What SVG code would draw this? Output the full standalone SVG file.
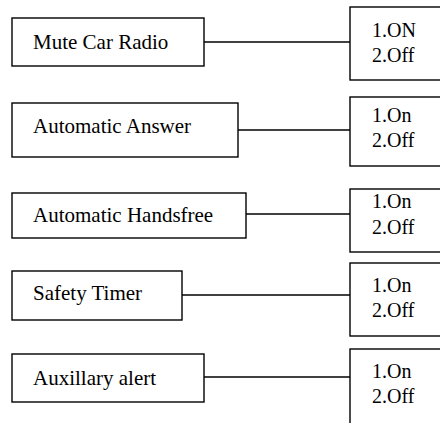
<svg xmlns="http://www.w3.org/2000/svg" width="440" height="423" viewBox="0 0 440 423">
<style>
.box{fill:#fff;stroke:#000;stroke-width:1.4}
.lbl{font-size:21px;fill:#000}
.opt{font-size:20px;fill:#000}
.conn{stroke:#000;stroke-width:1.4;fill:none}
</style>
<rect width="440" height="423" fill="#fff"/>
<g id="connectors">
<line class="conn" x1="204" y1="42" x2="350" y2="42"/>
<line class="conn" x1="238" y1="130" x2="350" y2="130"/>
<line class="conn" x1="246" y1="214" x2="350" y2="214"/>
<line class="conn" x1="182" y1="295" x2="350" y2="295"/>
<line class="conn" x1="204" y1="377" x2="350" y2="377"/>
</g>
<g font-family="Liberation Serif">
<g id="mute-car-radio"><rect class="box" x="12" y="18" width="192" height="48"/><text class="lbl" x="33" y="49">Mute Car Radio</text></g>
<g id="mute-options"><rect class="box" x="350" y="7" width="100" height="73"/><text class="opt" x="372" y="37">1.ON</text><text class="opt" x="372" y="62">2.Off</text></g>
<g id="automatic-answer"><rect class="box" x="12" y="103" width="226" height="54"/><text class="lbl" x="33" y="133">Automatic Answer</text></g>
<g id="answer-options"><rect class="box" x="350" y="97" width="100" height="69"/><text class="opt" x="372" y="122">1.On</text><text class="opt" x="372" y="147">2.Off</text></g>
<g id="automatic-handsfree"><rect class="box" x="12" y="193" width="234" height="45"/><text class="lbl" x="33" y="222">Automatic Handsfree</text></g>
<g id="handsfree-options"><rect class="box" x="350" y="189" width="100" height="63"/><text class="opt" x="372" y="208">1.On</text><text class="opt" x="372" y="234">2.Off</text></g>
<g id="safety-timer"><rect class="box" x="12" y="271" width="170" height="49"/><text class="lbl" x="33" y="300">Safety Timer</text></g>
<g id="timer-options"><rect class="box" x="350" y="263" width="100" height="73"/><text class="opt" x="372" y="292">1.On</text><text class="opt" x="372" y="317">2.Off</text></g>
<g id="auxillary-alert"><rect class="box" x="12" y="354" width="192" height="48"/><text class="lbl" x="33" y="385">Auxillary alert</text></g>
<g id="alert-options"><rect class="box" x="350" y="349" width="100" height="90"/><text class="opt" x="372" y="378">1.On</text><text class="opt" x="372" y="403">2.Off</text></g>
</g>
</svg>
